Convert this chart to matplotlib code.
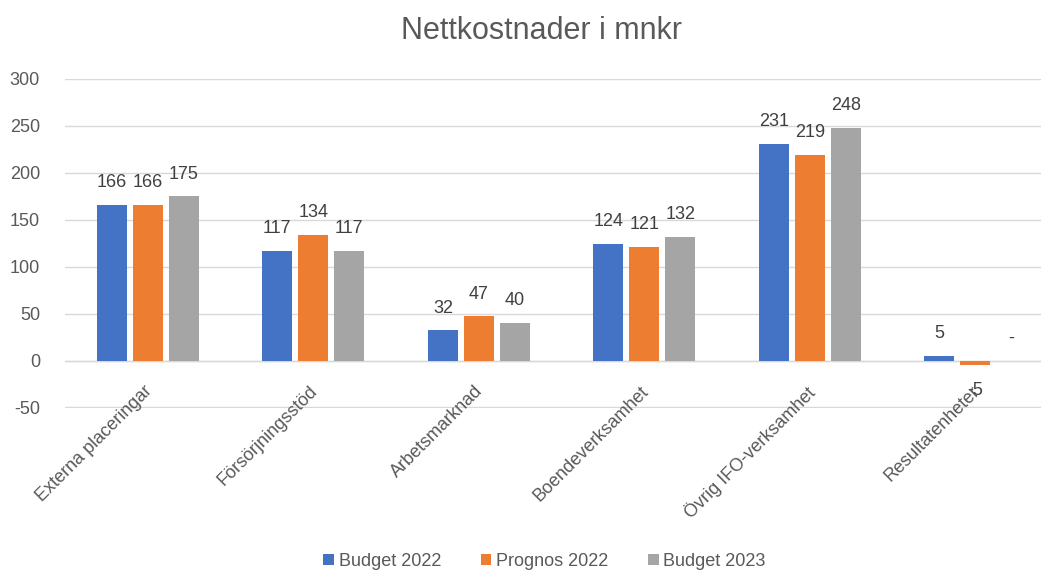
import numpy as np
import matplotlib.pyplot as plt

plt.rcParams['font.family'] = ['Liberation Sans', 'DejaVu Sans']
plt.rcParams['axes.unicode_minus'] = False

categories = ["Externa placeringar", "Försörjningsstöd", "Arbetsmarknad",
              "Boendeverksamhet", "Övrig IFO-verksamhet", "Resultatenheter"]
budget_2022 = [166, 117, 32, 124, 231, 5]
prognos_2022 = [166, 134, 47, 121, 219, -5]
budget_2023 = [175, 117, 40, 132, 248, 0]

series = [("Budget 2022", budget_2022, "#4472C4"),
          ("Prognos 2022", prognos_2022, "#ED7D31"),
          ("Budget 2023", budget_2023, "#A5A5A5")]

txt = "#595959"

fig = plt.figure(figsize=(10.41, 5.72), dpi=100)
ax = fig.add_axes([0.0625, 0.2867, 0.954, 0.5752])

x = np.arange(len(categories))
step = 0.2175
width = 0.181

handles = []
for k, (name, vals, col) in enumerate(series):
    pos = x + (k - 1) * step
    b = ax.bar(pos, vals, width, color=col, label=name, zorder=3)
    handles.append(b)
    for px, v in zip(pos, vals):
        lab = "-" if v == 0 else str(v)
        off = -18 if v < 0 else 16
        ax.annotate(lab, (px, v), xytext=(0, off), textcoords="offset points",
                    ha="center", va="center", fontsize=13, color="#404040")

ax.set_xlim(-0.5, len(categories) - 0.5)
ax.set_ylim(-50.6, 300)
ax.set_yticks(range(-50, 301, 50))
ax.grid(axis="y", color="#D9D9D9", linewidth=1, zorder=0)
ax.axhline(0, color="#D9D9D9", linewidth=1, zorder=1)
for s in ax.spines.values():
    s.set_visible(False)
ax.tick_params(axis="y", length=0, pad=18, labelsize=13, labelcolor=txt)
ax.set_xticks([])

for i, c in enumerate(categories):
    ax.annotate(c, (i, 0), xytext=(-3, -16), textcoords="offset points",
                ha="right", va="top", rotation=45, rotation_mode="anchor",
                fontsize=13, color=txt)

fig.text(0.52, 0.945, "Nettkostnader i mnkr", ha="center", va="center",
         fontsize=22, color=txt)

fig.legend(handles=handles, loc="lower center", bbox_to_anchor=(0.523, -0.025),
           ncol=3, frameon=False, fontsize=13, labelcolor=txt,
           handlelength=0.6, handleheight=0.6, handletextpad=0.25, columnspacing=2.2)

fig.savefig("out.png", dpi=100)
